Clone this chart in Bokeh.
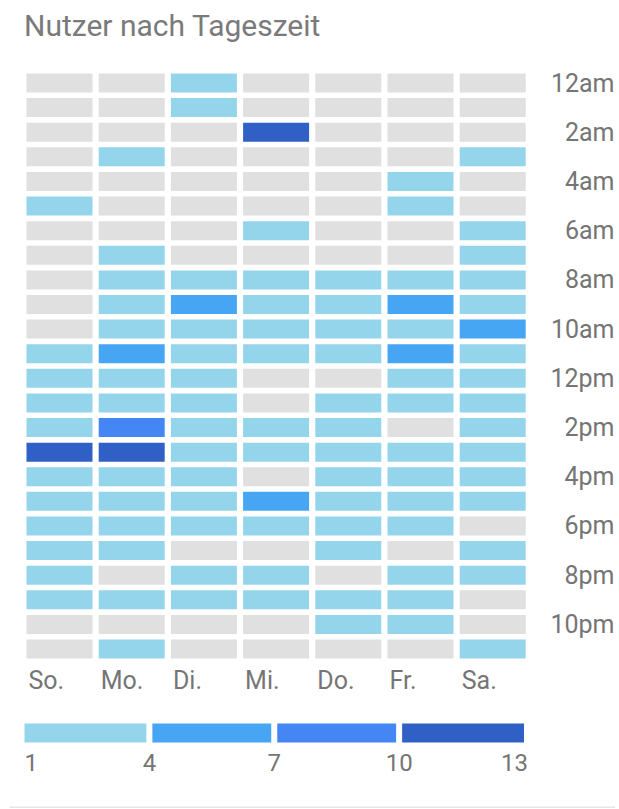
from bokeh.plotting import figure
from bokeh.models import Range1d, ColumnDataSource
from bokeh.transform import linear_cmap
from bokeh.core.properties import value
from bokeh.embed import file_html
from bokeh.resources import INLINE

title_text = "Nutzer nach Tageszeit"
days = ["So.", "Mo.", "Di.", "Mi.", "Do.", "Fr.", "Sa."]
hour_ticks = [0, 2, 4, 6, 8, 10, 12, 14, 16, 18, 20, 22]
hour_labels = ["12am", "2am", "4am", "6am", "8am", "10am",
               "12pm", "2pm", "4pm", "6pm", "8pm", "10pm"]

# users per hour (0 = 12am ... 23 = 11pm), one list per weekday
so = [0, 0, 0, 0, 0, 1, 0, 0, 0, 0, 0, 2, 2, 2, 3, 13, 2, 2, 2, 2, 1, 2, 0, 0]
mo = [0, 0, 0, 1, 0, 0, 0, 1, 2, 2, 3, 5, 2, 2, 8, 11, 3, 2, 2, 2, 0, 1, 0, 1]
di = [1, 1, 0, 0, 0, 0, 0, 0, 2, 5, 2, 3, 2, 2, 2, 2, 2, 2, 2, 0, 1, 2, 0, 0]
mi = [0, 0, 12, 0, 0, 0, 1, 0, 2, 2, 2, 3, 0, 0, 2, 2, 0, 5, 2, 0, 1, 2, 0, 0]
do = [0, 0, 0, 0, 0, 0, 0, 0, 2, 3, 2, 2, 0, 2, 2, 2, 2, 3, 2, 2, 0, 1, 1, 0]
fr = [0, 0, 0, 0, 1, 1, 0, 0, 2, 5, 3, 5, 2, 2, 0, 2, 2, 2, 2, 0, 2, 1, 1, 0]
sa = [0, 0, 0, 1, 0, 0, 1, 1, 2, 2, 5, 3, 2, 2, 2, 2, 2, 2, 0, 1, 2, 0, 0, 1]

legend_edges = [1, 4, 7, 10, 13]
palette = ["#95d5ec", "#46a6f3", "#4386f4", "#305fc5"]
empty_color = "#e0e0e0"
text_color = "#757575"

day_values = [so, mo, di, mi, do, fr, sa]

xs, ys, vals = [], [], []
for d_idx, col in enumerate(day_values):
    for h, v in enumerate(col):
        xs.append(d_idx)
        ys.append(h)
        vals.append(v)
src = ColumnDataSource(dict(x=xs, y=ys, v=vals))

W, H = 615, 808
col_px = 72.2
row_px = 24.61
x0 = -59.0 / col_px
x1 = x0 + W / col_px
ytop = -82.5 / row_px
ybot = ytop + H / row_px


def px_x(px):
    return x0 + px / col_px


def px_y(py):
    return ytop + py / row_px


p = figure(width=W, height=H, output_backend="svg", toolbar_location=None,
           x_range=Range1d(x0, x1), y_range=Range1d(ybot, ytop),
           min_border=0, background_fill_color="white",
           border_fill_color="white")
p.xaxis.visible = False
p.yaxis.visible = False
p.grid.visible = False
p.outline_line_color = None

# legend value scale
leg_px = 499.5 / 12.0
leg_start = 1 - 24.0 / leg_px
leg_end = leg_start + W / leg_px
p.extra_x_ranges = {"leg": Range1d(leg_start, leg_end)}

mapper = linear_cmap("v", palette, low=1, high=13, low_color=empty_color)
p.rect(x="x", y="y", width=66.0 / col_px, height=19.0 / row_px, source=src,
       fill_color=mapper, line_color=None)

font = value("Roboto")

# title
p.text(x=[px_x(23.5)], y=[px_y(25.0)], text=[title_text],
       text_font=font, text_font_size="30px", text_color="#7a7a7a",
       text_align="left", text_baseline="middle")

# hour labels (right side)
p.text(x=[px_x(614.0)] * len(hour_ticks), y=hour_ticks, text=hour_labels,
       text_font=font, text_font_size="25px", text_color=text_color,
       text_align="right", text_baseline="middle")

# day labels
day_idx = list(range(len(days)))
p.text(x=[i - 33.0 / col_px + 2.0 / col_px for i in day_idx],
       y=[px_y(680.0)] * len(days), text=days,
       text_font=font, text_font_size="25px", text_color=text_color,
       text_align="left", text_baseline="middle")

# legend bars
gap = 6.0 / leg_px
lefts = [lo + (gap / 2 if i > 0 else 0) for i, lo in enumerate(legend_edges[:-1])]
rights = [hi - (gap / 2 if i < len(legend_edges) - 2 else 0)
          for i, hi in enumerate(legend_edges[1:])]
p.hbar(y=[px_y(732.5)] * len(palette), left=lefts, right=rights,
       height=19.0 / row_px, fill_color=palette, line_color=None,
       x_range_name="leg")

# legend labels
lab_y = px_y(761.5)
lab_txt = [str(e) for e in legend_edges]
p.text(x=legend_edges[:1], y=[lab_y], text=lab_txt[:1], x_range_name="leg",
       text_font=font, text_font_size="24px", text_color=text_color,
       text_align="left", text_baseline="middle")
p.text(x=legend_edges[1:-1], y=[lab_y] * 3, text=lab_txt[1:-1], x_range_name="leg",
       text_font=font, text_font_size="24px", text_color=text_color,
       text_align="center", text_baseline="middle")
p.text(x=legend_edges[-1:], y=[lab_y], text=lab_txt[-1:], x_range_name="leg",
       text_font=font, text_font_size="24px", text_color=text_color,
       text_align="right", text_baseline="middle", x_offset=4)

# divider line at bottom
div_y = px_y(807.0)
p.segment(x0=[leg_start + 9.0 / leg_px], y0=[div_y], x1=[leg_end], y1=[div_y],
          x_range_name="leg", line_color="#e6e6e6", line_width=2)

open("out.html", "w").write(file_html(p, INLINE))
